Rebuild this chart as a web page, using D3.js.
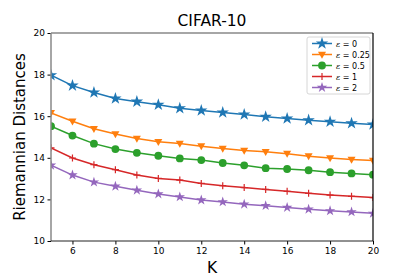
<!DOCTYPE html>
<html><head><meta charset="utf-8">
<script src="https://cdn.jsdelivr.net/npm/d3@7"></script>
<style>body{margin:0;background:#fff}svg{display:block}text{font-family:"DejaVu Sans",sans-serif}</style>
</head><body><svg id="c" width="415" height="277"></svg>
<script>
const K = [5,6,7,8,9,10,11,12,13,14,15,16,17,18,19,20];
const eps0   = [17.97,17.47,17.14,16.85,16.70,16.55,16.38,16.27,16.18,16.08,15.97,15.89,15.81,15.73,15.66,15.60];
const eps025 = [16.16,15.76,15.40,15.14,14.93,14.77,14.69,14.56,14.45,14.35,14.29,14.20,14.08,13.99,13.92,13.87];
const eps05  = [15.52,15.07,14.68,14.42,14.24,14.10,13.97,13.89,13.75,13.64,13.50,13.46,13.40,13.31,13.25,13.19];
const eps1   = [14.48,13.99,13.67,13.43,13.17,13.01,12.93,12.77,12.66,12.57,12.48,12.39,12.29,12.21,12.15,12.09];
const eps2   = [13.64,13.17,12.83,12.63,12.44,12.26,12.12,11.97,11.88,11.77,11.70,11.61,11.53,11.45,11.40,11.33];
const seriesNames = ["0","0.25","0.5","1","2"];
const xTicks = [6,8,10,12,14,16,18,20];
const yTicks = [10,12,14,16,18,20];

const series = [
  {name:seriesNames[0], values:eps0,   color:"#1f77b4", sym:d3.symbolStar, size:48},
  {name:seriesNames[1], values:eps025, color:"#ff7f0e", sym:"tri", size:40},
  {name:seriesNames[2], values:eps05,  color:"#2ca02c", sym:d3.symbolCircle, size:48},
  {name:seriesNames[3], values:eps1,   color:"#d62728", sym:"plus", size:40},
  {name:seriesNames[4], values:eps2,   color:"#9467bd", sym:d3.symbolStar, size:34}
];

const svg = d3.select("#c");
const L=51, R=373, T=33, B=241;
const x = d3.scaleLinear().domain([5,20]).range([L,R]);
const y = d3.scaleLinear().domain([10,20]).range([B,T]);

svg.append("text").attr("x",(L+R)/2).attr("y",26).attr("text-anchor","middle")
  .attr("font-size",15.5).text("CIFAR-10");
svg.append("text").attr("transform",`translate(25,${(T+B)/2}) rotate(-90)`)
  .attr("text-anchor","middle").attr("font-size",15).text("Riemannian Distances");
svg.append("text").attr("x",(L+R)/2).attr("y",273).attr("text-anchor","middle")
  .attr("font-size",15.5).text("K");

const xa = svg.append("g").attr("transform",`translate(0,${B})`)
  .call(d3.axisBottom(x).tickValues(xTicks).tickSize(3.5).tickPadding(3).tickFormat(d3.format("d")));
const ya = svg.append("g").attr("transform",`translate(${L},0)`)
  .call(d3.axisLeft(y).tickValues(yTicks).tickSize(3.5).tickPadding(2.5).tickFormat(d3.format("d")));
[xa,ya].forEach(a=>{a.select(".domain").remove();a.selectAll("text").attr("font-size",9).attr("fill","#000").style("font-family","DejaVu Sans");a.selectAll("line").attr("stroke","#000");});

function drawMarker(g, s, cx, cy){
  if(s.sym==="tri"){
    const h=7, w=8;
    g.append("path").attr("d",`M${cx-w/2},${cy-h*0.4}L${cx+w/2},${cy-h*0.4}L${cx},${cy+h*0.6}Z`).attr("fill",s.color);
  } else if(s.sym==="plus"){
    g.append("path").attr("d",`M${cx-3.5},${cy}H${cx+3.5}M${cx},${cy-3.5}V${cy+3.5}`).attr("stroke",s.color).attr("stroke-width",1.2);
  } else {
    g.append("path").attr("d",d3.symbol().type(s.sym).size(s.size)()).attr("transform",`translate(${cx},${cy})`).attr("fill",s.color);
  }
}

svg.append("defs").append("clipPath").attr("id","cp").append("rect")
  .attr("x",L).attr("y",T).attr("width",R-L).attr("height",B-T);
const plot = svg.append("g").attr("clip-path","url(#cp)");
const line = d3.line().x((d,i)=>x(K[i])).y(d=>y(d));
series.forEach(s=>{
  plot.append("path").attr("d",line(s.values)).attr("fill","none").attr("stroke",s.color).attr("stroke-width",1.5);
  s.values.forEach((v,i)=>drawMarker(plot,s,x(K[i]),y(v)));
});

// spines
svg.append("line").attr("x1",L).attr("x2",L).attr("y1",T).attr("y2",B).attr("stroke","#888").attr("stroke-width",1.5);
svg.append("line").attr("x1",L).attr("x2",R).attr("y1",T).attr("y2",T).attr("stroke","#888").attr("stroke-width",1.5);
svg.append("line").attr("x1",L).attr("x2",R).attr("y1",B).attr("y2",B).attr("stroke","#222").attr("stroke-width",1);
svg.append("line").attr("x1",R).attr("x2",R).attr("y1",T).attr("y2",B).attr("stroke","#000").attr("stroke-width",1.2);

// legend
const lg = svg.append("g");
lg.append("rect").attr("x",307).attr("y",37).attr("width",63).attr("height",57).attr("rx",2)
  .attr("fill","#fff").attr("stroke","#ccc").attr("stroke-width",0.8);
series.forEach((s,i)=>{
  const yy = 43.5 + i*11;
  lg.append("line").attr("x1",312).attr("x2",332).attr("y1",yy).attr("y2",yy).attr("stroke",s.color).attr("stroke-width",1.5);
  drawMarker(lg,s,322,yy);
  const t = lg.append("text").attr("x",336).attr("y",yy+3).attr("font-size",8);
  t.append("tspan").attr("font-style","italic").attr("font-family","DejaVu Serif").text("\u03b5");
  t.append("tspan").text(" = " + s.name);
});
</script></body></html>
